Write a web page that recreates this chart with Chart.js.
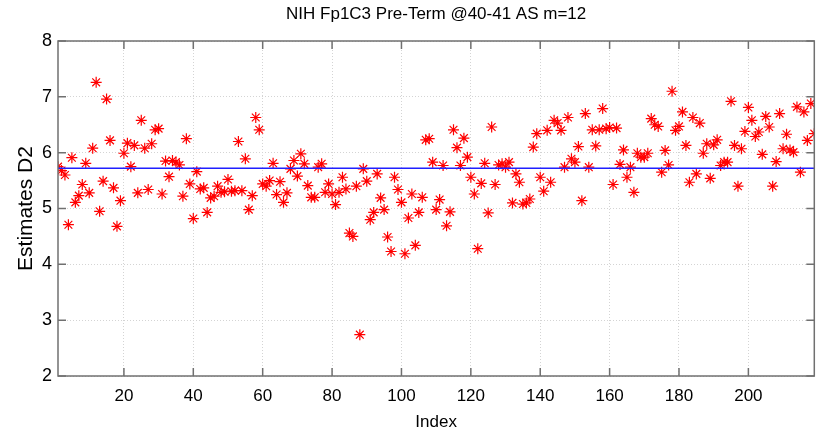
<!DOCTYPE html>
<html>
<head>
<meta charset="utf-8">
<script src="https://cdn.jsdelivr.net/npm/chart.js@4/dist/chart.umd.min.js"></script>
<style>
  html, body { margin: 0; padding: 0; background: #ffffff; }
  #c { display: block; }
</style>
</head>
<body>
<canvas id="c" width="821" height="433"></canvas>
<script>
const chartTitle = 'NIH Fp1C3 Pre-Term @40-41 AS m=12';
const xAxisLabel = 'Index';
const yAxisLabel = 'Estimates D2';

const estimates = [
  5.75, 5.68, 5.60, 4.71, 5.91, 5.11, 5.23, 5.43, 5.81, 5.28,
  6.08, 7.26, 4.95, 5.49, 6.96, 6.22, 5.37, 4.68, 5.14, 5.99,
  6.17, 5.75, 6.13, 5.28, 6.58, 6.08, 5.34, 6.16, 6.41, 6.43,
  5.26, 5.85, 5.57, 5.86, 5.83, 5.78, 5.22, 6.25, 5.44, 4.82,
  5.66, 5.35, 5.37, 4.93, 5.19, 5.22, 5.40, 5.29, 5.30, 5.52,
  5.31, 5.32, 6.20, 5.32, 5.89, 4.98, 5.23, 6.63, 6.41, 5.44,
  5.40, 5.50, 5.81, 5.25, 5.48, 5.11, 5.28, 5.71, 5.86, 5.58,
  5.98, 5.80, 5.41, 5.20, 5.20, 5.74, 5.80, 5.29, 5.44, 5.26,
  5.07, 5.29, 5.56, 5.35, 4.56, 4.50, 5.40, 2.74, 5.71, 5.49,
  4.80, 4.93, 5.62, 5.19, 4.98, 4.49, 4.23, 5.56, 5.34, 5.11,
  4.19, 4.83, 5.26, 4.34, 4.93, 5.20, 6.23, 6.25, 5.83, 4.98,
  5.16, 5.77, 4.69, 4.94, 6.41, 6.09, 5.77, 6.26, 5.92, 5.56,
  5.26, 4.28, 5.45, 5.81, 4.92, 6.46, 5.43, 5.78, 5.80, 5.74,
  5.83, 5.10, 5.62, 5.47, 5.08, 5.10, 5.17, 6.10, 6.34, 5.56,
  5.31, 6.40, 5.47, 6.58, 6.53, 6.40, 5.74, 6.63, 5.89, 5.83,
  6.11, 5.14, 6.70, 5.74, 6.41, 6.12, 6.41, 6.79, 6.43, 6.45,
  5.43, 6.44, 5.79, 6.05, 5.56, 5.74, 5.29, 5.99, 5.92, 5.92,
  5.99, 6.61, 6.50, 6.47, 5.65, 6.04, 5.78, 7.10, 6.40, 6.47,
  6.73, 6.13, 5.47, 6.63, 5.62, 6.53, 5.99, 6.16, 5.54, 6.14,
  6.23, 5.77, 5.83, 5.83, 6.92, 6.13, 5.40, 6.07, 6.38, 6.81,
  6.58, 6.29, 6.37, 5.97, 6.65, 6.46, 5.40, 5.84, 6.70, 6.07,
  6.33, 6.05, 6.01, 6.82, 5.65, 6.73, 6.22, 6.88, 6.34
];

const meanValue = 5.72;
const xTicks = [20, 40, 60, 80, 100, 120, 140, 160, 180, 200];
const yTicks = [2, 3, 4, 5, 6, 7, 8];
const xMin = 1;
const xMax = estimates.length;

const points = estimates.map((v, i) => ({ x: i + 1, y: v }));
const meanLine = [{ x: xMin, y: meanValue }, { x: xMax, y: meanValue }];

const sans = "'Liberation Sans', Arial, sans-serif";

const framePlugin = {
  id: 'frame',
  afterDraw(chart) {
    const { ctx, chartArea: a, scales: { x, y } } = chart;
    ctx.save();
    ctx.strokeStyle = '#707070';
    ctx.lineWidth = 1.5;
    ctx.strokeRect(a.left, a.top, a.right - a.left, a.bottom - a.top);
    ctx.beginPath();
    xTicks.forEach(t => {
      const px = x.getPixelForValue(t);
      ctx.moveTo(px, a.bottom); ctx.lineTo(px, a.bottom - 8);
      ctx.moveTo(px, a.top); ctx.lineTo(px, a.top + 8);
    });
    yTicks.forEach(t => {
      const py = y.getPixelForValue(t);
      ctx.moveTo(a.left, py); ctx.lineTo(a.left + 8, py);
      ctx.moveTo(a.right, py); ctx.lineTo(a.right - 8, py);
    });
    ctx.stroke();
    ctx.restore();
  }
};

new Chart(document.getElementById('c'), {
  type: 'scatter',
  data: {
    datasets: [
      {
        type: 'line',
        data: meanLine,
        showLine: true,
        borderColor: '#1f1fff',
        borderWidth: 1.5,
        pointRadius: 0,
        fill: false
      },
      {
        data: points,
        pointStyle: 'star',
        pointRadius: 5.5,
        borderColor: '#ff0000',
        backgroundColor: '#ff0000',
        borderWidth: 1.2
      }
    ]
  },
  options: {
    responsive: false,
    animation: false,
    devicePixelRatio: 1,
    events: [],
    layout: { padding: { left: 0, right: 6, top: 0, bottom: 0 } },
    plugins: {
      legend: { display: false },
      tooltip: { enabled: false },
      title: {
        display: true,
        text: chartTitle,
        fullSize: false,
        color: '#000',
        font: { family: sans, size: 17, weight: 'normal' },
        padding: { top: 4, bottom: 16.6 }
      }
    },
    scales: {
      x: {
        type: 'linear',
        position: 'bottom',
        min: xMin,
        max: xMax,
        afterBuildTicks: s => { s.ticks = xTicks.map(v => ({ value: v })); },
        afterFit: s => { s.height = 57; },
        ticks: {
          color: '#000',
          font: { family: sans, size: 17 },
          padding: 10,
          maxRotation: 0,
          autoSkip: false
        },
        grid: { color: '#d4d4d4', lineWidth: 1, drawTicks: false },
        border: { display: false, dash: [1, 2] },
        title: {
          display: true,
          text: xAxisLabel,
          color: '#000',
          font: { family: sans, size: 17 },
          padding: { top: 0, bottom: 0 }
        }
      },
      y: {
        type: 'linear',
        min: 2,
        max: 8,
        afterBuildTicks: s => { s.ticks = yTicks.map(v => ({ value: v })); },
        afterFit: s => { s.width = 58; },
        ticks: {
          color: '#000',
          font: { family: sans, size: 18 },
          padding: 6
        },
        grid: { color: '#d4d4d4', lineWidth: 1, drawTicks: false },
        border: { display: false, dash: [1, 2] },
        title: {
          display: true,
          text: yAxisLabel,
          color: '#000',
          font: { family: sans, size: 21 },
          padding: { top: 14, bottom: 0 }
        }
      }
    }
  },
  plugins: [framePlugin]
});
</script>
</body>
</html>
